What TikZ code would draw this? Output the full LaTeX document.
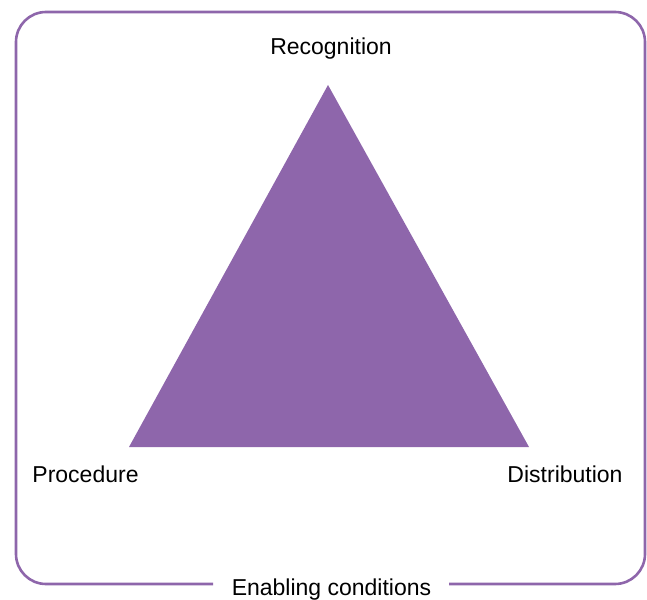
\documentclass[tikz,border=0pt]{standalone}
\usepackage{fontspec}
\setmainfont{Liberation Sans}
\definecolor{plum}{HTML}{8E66AB}
\begin{document}
\begin{tikzpicture}[x=1pt,y=-1pt,
  lbl/.style={inner sep=0pt,anchor=base,font=\fontsize{23}{27}\selectfont},
  frame/.style={draw=plum,line width=2.6pt,rounded corners=30pt}]
\useasboundingbox (0,0) rectangle (647,599);
% triangle
\coordinate (top) at (328,85);
\coordinate (bl) at (129,447);
\coordinate (br) at (529,447);
\fill[plum] (top) -- (br) -- (bl) -- cycle;
% labels
\node[lbl] (rec) at (331,55) {Recognition};
\node[lbl] (proc) at (85.5,482) {Procedure};
\node[lbl] (dist) at (565,482) {Distribution};
\node[lbl] (enab) at (331.5,595) {Enabling conditions};
% surrounding frame, open behind the bottom label
\coordinate (gl) at (213,584);
\coordinate (gr) at (449,584);
\draw[frame] (gl) -- (16,584) -- (16,12) -- (645,12) -- (645,584) -- (gr);
\end{tikzpicture}
\end{document}
